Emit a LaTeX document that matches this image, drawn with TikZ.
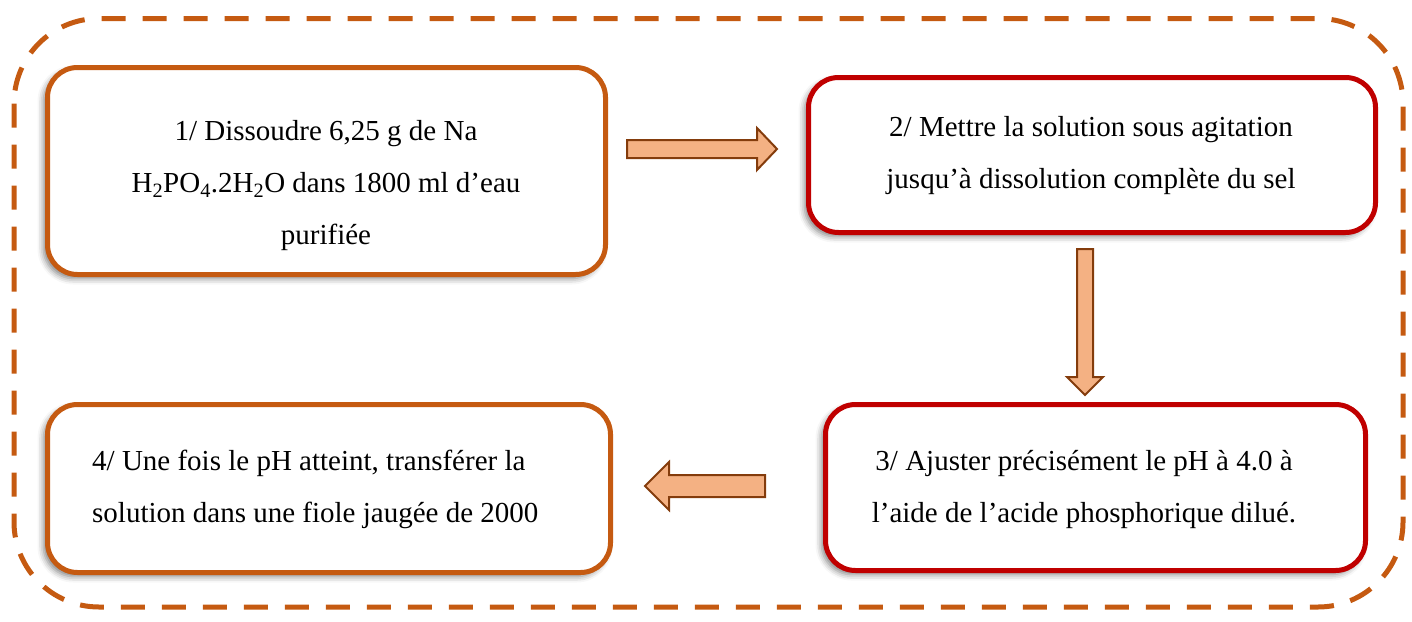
\documentclass[tikz,border=0pt]{standalone}
\usepackage{fontspec}
\setmainfont{Liberation Serif}
\usetikzlibrary{shadows.blur}

\definecolor{orangeb}{HTML}{C55A11}
\definecolor{rougeb}{HTML}{C00000}
\definecolor{flechefill}{HTML}{F4B183}
\definecolor{flechedraw}{HTML}{843C0C}

\begin{document}
\begin{tikzpicture}[x=1pt,y=-1pt,
    etape/.style={rectangle, rounded corners=30pt, line width=5pt, fill=white,
        blur shadow={shadow xshift=-4pt, shadow yshift=-4pt, shadow blur radius=6pt, shadow opacity=50}},
    texte/.style={inner sep=0pt, align=center, font={\fontsize{29}{52}\selectfont}},
    fleche/.style={fill=flechefill, draw=flechedraw, line width=2pt, line join=miter},
    cadre/.style={draw=orangeb, line width=5pt, rounded corners=85pt, dash pattern=on 24pt off 17pt}]
    \useasboundingbox (0,0) rectangle (1412,621);

    % cadre pointille
    \draw [cadre] (14,18.5) rectangle (1403,607);

    % Etapes
    \node [etape, draw=orangeb, minimum width=558pt, minimum height=207pt] (etape1) at (326.5,171) {};
    \node [etape, draw=rougeb, minimum width=567pt, minimum height=155pt] (etape2) at (1092,155) {};
    \node [etape, draw=rougeb, minimum width=540pt, minimum height=166pt] (etape3) at (1095.5,487.5) {};
    \node [etape, draw=orangeb, minimum width=563pt, minimum height=168pt] (etape4) at (329,488.5) {};

    % Text Node
    \node [texte] (texte1) at (326,186) {1/ Dissoudre 6,25 g de Na\\H\textsubscript{2}PO\textsubscript{4}.2H\textsubscript{2}O dans 1800 ml d’eau\\purifiée};
    % Text Node
    \node [texte] (texte2) at (1091,156) {2/ Mettre la solution sous agitation\\jusqu’à dissolution complète du sel};
    % Text Node
    \node [texte] (texte3) at (1084,489) {3/ Ajuster précisément le pH à 4.0 à\\l’aide de l’acide phosphorique dilué.};
    % Text Node
    \node [texte, align=left, anchor=west] (texte4) at (92,489) {4/ Une fois le pH atteint, transférer la\\solution dans une fiole jaugée de 2000};

    % Fleches
    \draw [fleche] (627,140) -- (757,140) -- (757,128) -- (777,149) -- (757,170) -- (757,158) -- (627,158) -- cycle;
    \draw [fleche] (1077,249) -- (1093,249) -- (1093,377) -- (1103,377) -- (1085,395) -- (1067,377) -- (1077,377) -- cycle;
    \draw [fleche] (765,475) -- (669,475) -- (669,462) -- (645,486) -- (669,510) -- (669,497) -- (765,497) -- cycle;

\end{tikzpicture}
\end{document}
